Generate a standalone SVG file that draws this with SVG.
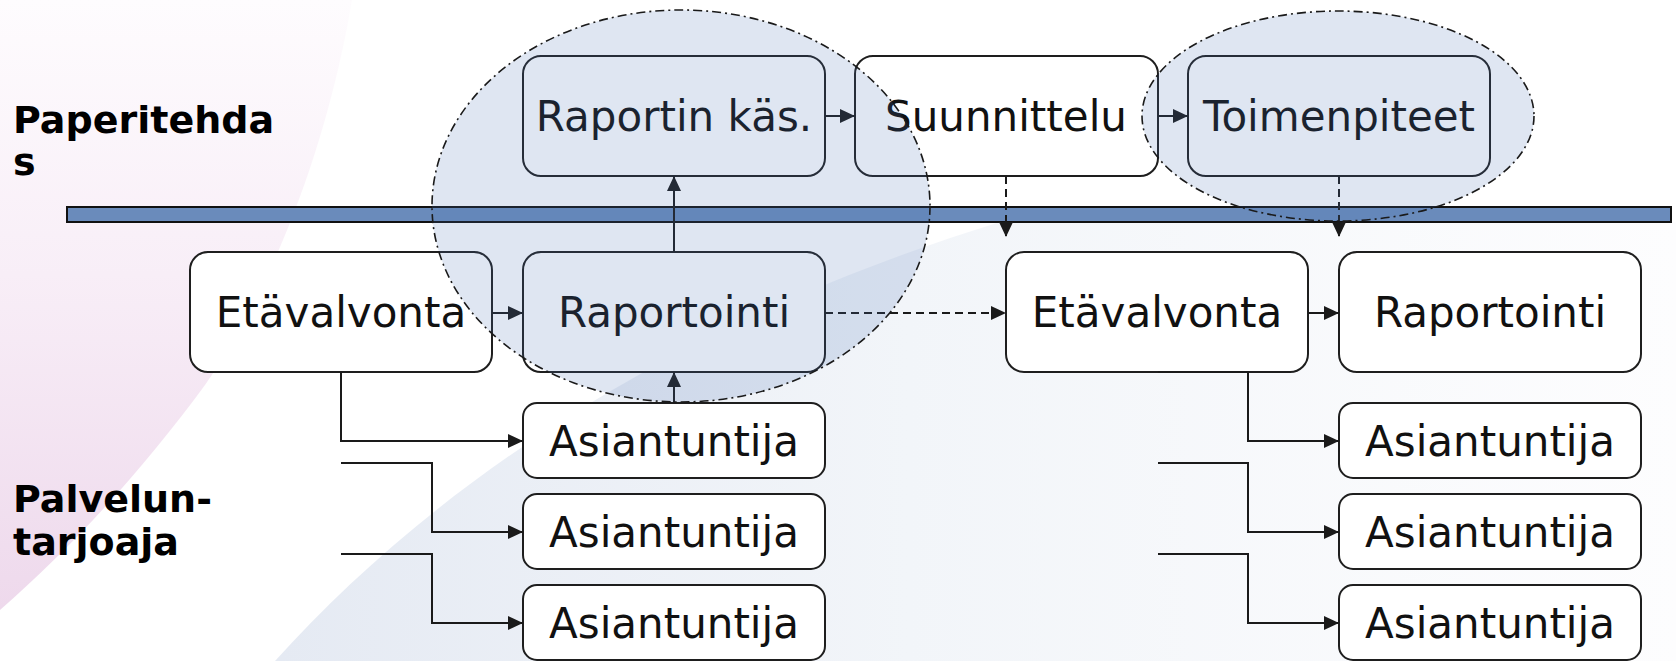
<svg xmlns="http://www.w3.org/2000/svg" width="1676" height="661" viewBox="0 0 1676 661">
<defs>
<linearGradient id="pink" x1="0" y1="0" x2="0" y2="1">
<stop offset="0" stop-color="#fefcfe"/>
<stop offset="0.45" stop-color="#f8eef7"/>
<stop offset="1" stop-color="#eed9ec"/>
</linearGradient>
<linearGradient id="blue" gradientUnits="userSpaceOnUse" x1="280" y1="0" x2="1676" y2="0">
<stop offset="0" stop-color="#e5eaf3"/>
<stop offset="0.45" stop-color="#f2f5f9"/>
<stop offset="1" stop-color="#fdfdfe"/>
</linearGradient>
<marker id="arr" markerUnits="userSpaceOnUse" markerWidth="16" markerHeight="14" refX="15" refY="7" orient="auto">
<path d="M0,0 L15,7 L0,14 Z" fill="#1a1a1a"/>
</marker>
<style>
.box{fill:#ffffff;stroke:#1e1e1e;stroke-width:2}
.lbl{font-family:"DejaVu Sans",Verdana,sans-serif;font-size:42px;fill:#111;text-anchor:middle}
.side{font-family:"DejaVu Sans",Verdana,sans-serif;font-size:38px;font-weight:bold;fill:#000}
.ln{fill:none;stroke:#1a1a1a;stroke-width:2}
.arrow{marker-end:url(#arr)}
.dash{stroke-dasharray:8,5}
.hl{fill:#4f73b8;fill-opacity:0.18;stroke:#1a1a1a;stroke-width:1.6;stroke-dasharray:9,4,2,4}
</style>
</defs>
<g id="background">
<rect x="0" y="0" width="1676" height="661" fill="#ffffff"/>
<path d="M0,0 H352 C325,160 265,300 205,385 C150,460 80,540 0,610 Z" fill="url(#pink)"/>
<path d="M275,661 C420,500 650,330 1000,222 L1676,222 L1676,661 Z" fill="url(#blue)"/>
</g>
<g id="labels">
<text class="side" x="13" y="133">Paperitehda</text>
<text class="side" x="13" y="175">s</text>
<text class="side" x="13" y="512">Palvelun-</text>
<text class="side" x="13" y="555">tarjoaja</text>
</g>
<rect id="divider" x="67" y="207" width="1604" height="15" fill="#6a8bbb" stroke="#111" stroke-width="2"/>
<g id="n-raportin-kas"><rect class="box" x="523" y="56" width="302" height="120" rx="18"/><text class="lbl" x="674" y="131">Raportin käs.</text></g>
<g id="n-suunnittelu"><rect class="box" x="855" y="56" width="303" height="120" rx="18"/><text class="lbl" x="1006" y="131">Suunnittelu</text></g>
<g id="n-toimenpiteet"><rect class="box" x="1188" y="56" width="302" height="120" rx="18"/><text class="lbl" x="1339" y="131">Toimenpiteet</text></g>
<g id="n-etavalvonta-1"><rect class="box" x="190" y="252" width="302" height="120" rx="18"/><text class="lbl" x="341" y="327">Etävalvonta</text></g>
<g id="n-raportointi-1"><rect class="box" x="523" y="252" width="302" height="120" rx="18"/><text class="lbl" x="674" y="327">Raportointi</text></g>
<g id="n-etavalvonta-2"><rect class="box" x="1006" y="252" width="302" height="120" rx="18"/><text class="lbl" x="1157" y="327">Etävalvonta</text></g>
<g id="n-raportointi-2"><rect class="box" x="1339" y="252" width="302" height="120" rx="18"/><text class="lbl" x="1490" y="327">Raportointi</text></g>
<g id="n-asiantuntija-1"><rect class="box" x="523" y="403" width="302" height="75" rx="14"/><text class="lbl" x="674" y="456">Asiantuntija</text></g>
<g id="n-asiantuntija-2"><rect class="box" x="523" y="494" width="302" height="75" rx="14"/><text class="lbl" x="674" y="547">Asiantuntija</text></g>
<g id="n-asiantuntija-3"><rect class="box" x="523" y="585" width="302" height="75" rx="14"/><text class="lbl" x="674" y="638">Asiantuntija</text></g>
<g id="n-asiantuntija-4"><rect class="box" x="1339" y="403" width="302" height="75" rx="14"/><text class="lbl" x="1490" y="456">Asiantuntija</text></g>
<g id="n-asiantuntija-5"><rect class="box" x="1339" y="494" width="302" height="75" rx="14"/><text class="lbl" x="1490" y="547">Asiantuntija</text></g>
<g id="n-asiantuntija-6"><rect class="box" x="1339" y="585" width="302" height="75" rx="14"/><text class="lbl" x="1490" y="638">Asiantuntija</text></g>
<g id="connectors">
<path class="ln arrow" d="M825,116 H855"/>
<path class="ln arrow" d="M1158,116 H1188"/>
<path class="ln arrow" d="M674,252 V176"/>
<path class="ln arrow" d="M492,313 H523"/>
<path class="ln arrow dash" d="M825,313 H1006"/>
<path class="ln arrow" d="M1308,313 H1339"/>
<path class="ln arrow dash" d="M1006,176 V237"/>
<path class="ln arrow dash" d="M1339,176 V237"/>
<path class="ln arrow" d="M674,403 V372"/>
<path class="ln arrow" d="M341,372 V441 H523"/>
<path class="ln arrow" d="M341,463 H432 V532 H523"/>
<path class="ln arrow" d="M341,554 H432 V623 H523"/>
<path class="ln arrow" d="M1158,372 H1248 V441 H1339"/>
<path class="ln arrow" d="M1158,463 H1248 V532 H1339"/>
<path class="ln arrow" d="M1158,554 H1248 V623 H1339"/>
</g>
<g id="highlights">
<ellipse class="hl" cx="681" cy="206" rx="249" ry="196"/>
<ellipse class="hl" cx="1338" cy="116" rx="196" ry="105"/>
</g>
</svg>
